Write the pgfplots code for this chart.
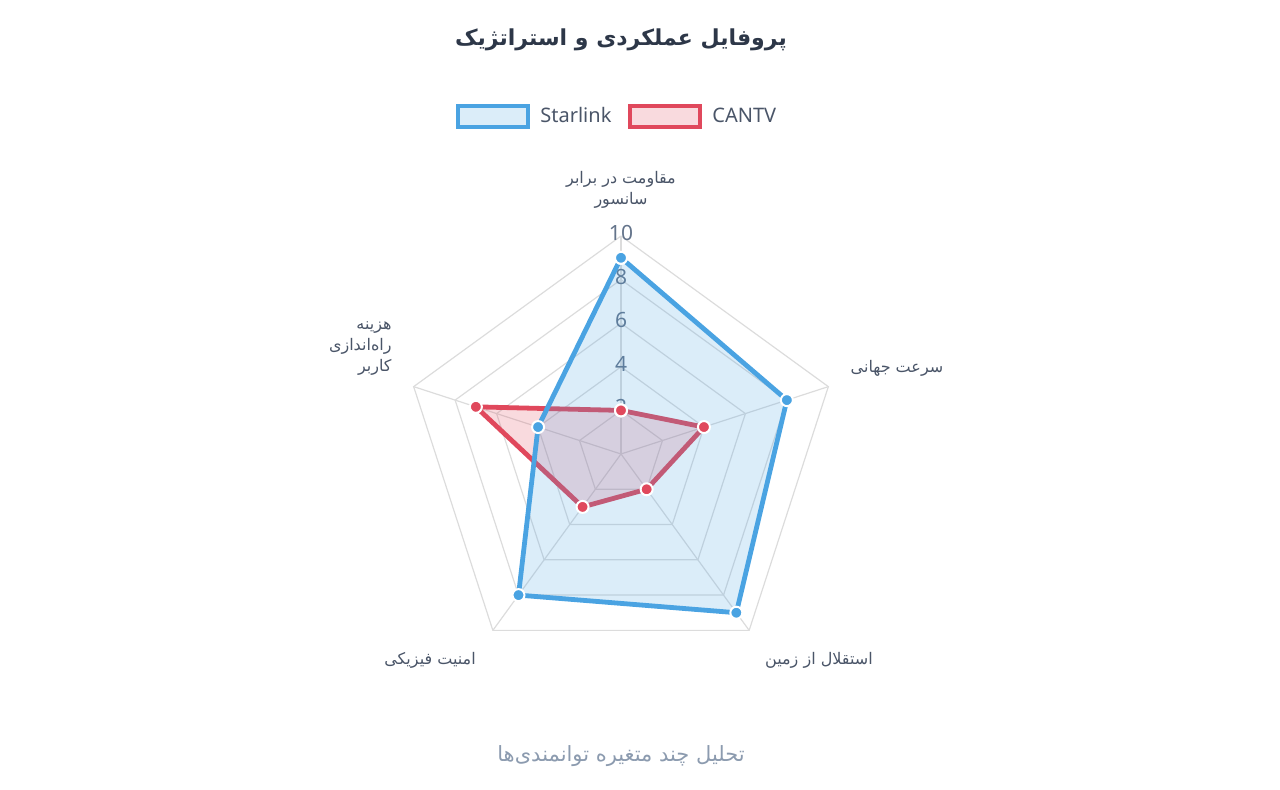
\documentclass[border=0pt]{standalone}
\usepackage{pgfplots}
\pgfplotsset{compat=1.18}
\usepgfplotslibrary{polar}
\usepackage{fontspec}
\setmainfont{Noto Sans}
\newfontfamily\fa[Script=Arabic]{DejaVu Sans}
\TeXXeTstate=1
\definecolor{sblue}{RGB}{74,163,226}
\definecolor{cred}{RGB}{224,72,92}
\definecolor{gridc}{RGB}{220,220,220}
\definecolor{tickc}{RGB}{100,116,139}
\definecolor{labc}{RGB}{74,85,104}
\definecolor{titc}{RGB}{45,55,72}
\definecolor{subc}{RGB}{140,155,175}
\pgfplotsset{pol/.style={data cs=polar}, gr/.style={pol, gridc, line width=0.6pt, no marks}}
\begin{document}
\begin{tikzpicture}
\begin{axis}[scale only axis, width=640pt, height=394.5pt,
  xmin=-28.486, xmax=30.229, ymin=-15.367, ymax=20.826,
  hide axis, clip=false]
\path (rel axis cs:0,0) rectangle (rel axis cs:1,1);
% grid pentagons
\addplot[gr] coordinates {(90,2) (18,2) (-54,2) (-126,2) (162,2) (90,2)};
\addplot[gr] coordinates {(90,4) (18,4) (-54,4) (-126,4) (162,4) (90,4)};
\addplot[gr] coordinates {(90,6) (18,6) (-54,6) (-126,6) (162,6) (90,6)};
\addplot[gr] coordinates {(90,8) (18,8) (-54,8) (-126,8) (162,8) (90,8)};
\addplot[gr] coordinates {(90,10) (18,10) (-54,10) (-126,10) (162,10) (90,10)};
% spokes
\addplot[gr] coordinates {(90,0) (90,10)};
\addplot[gr] coordinates {(18,0) (18,10)};
\addplot[gr] coordinates {(-54,0) (-54,10)};
\addplot[gr] coordinates {(-126,0) (-126,10)};
\addplot[gr] coordinates {(162,0) (162,10)};
% tick labels
\node[text=tickc, font=\fontsize{10.5}{12}\selectfont, inner sep=0pt] at (axis cs:0,2.14) {2};
\node[text=tickc, font=\fontsize{10.5}{12}\selectfont, inner sep=0pt] at (axis cs:0,4.14) {4};
\node[text=tickc, font=\fontsize{10.5}{12}\selectfont, inner sep=0pt] at (axis cs:0,6.14) {6};
\node[text=tickc, font=\fontsize{10.5}{12}\selectfont, inner sep=0pt] at (axis cs:0,8.14) {8};
\node[text=tickc, font=\fontsize{10.5}{12}\selectfont, inner sep=0pt] at (axis cs:0,10.14) {10};
% CANTV
\addplot[pol, cred, line width=2.4pt, fill=cred, fill opacity=0.2, draw opacity=1,
  mark=*, mark size=3pt, mark options={fill=cred, draw=white, line width=1pt, fill opacity=1}]
  coordinates {(90,2) (18,4) (-54,2) (-126,3) (162,7) (90,2)};
% Starlink
\addplot[pol, sblue, line width=2.4pt, fill=sblue, fill opacity=0.2, draw opacity=1,
  mark=*, mark size=3pt, mark options={fill=sblue, draw=white, line width=1pt, fill opacity=1}]
  coordinates {(90,9) (18,8) (-54,9) (-126,8) (162,4) (90,9)};
% title
\node[text=titc, font=\fa\bfseries\fontsize{11}{14}\selectfont] at (axis cs:0,18.99) {\beginR پروفایل عملکردی و استراتژیک\endR};
% legend
\draw[sblue, line width=2pt, fill=sblue!20] (axis cs:-7.477,15.963) rectangle (axis cs:-4.266,15.0);
\node[anchor=west, text=labc, font=\fontsize{10}{12}\selectfont, inner sep=0pt] at (axis cs:-3.716,15.55) {Starlink};
\draw[cred, line width=2pt, fill=cred!20] (axis cs:0.413,15.963) rectangle (axis cs:3.624,15.0);
\node[anchor=west, text=labc, font=\fontsize{10}{12}\selectfont, inner sep=0pt] at (axis cs:4.174,15.55) {CANTV};
% axis labels
\node[text=labc, font=\fa\fontsize{8}{10.5}\selectfont, align=center] at (axis cs:0,12.1) {\beginR مقاومت در برابر\endR\\\beginR سانسور\endR};
\node[text=labc, font=\fa\fontsize{8}{10.5}\selectfont] at (axis cs:12.66,3.94) {\beginR سرعت جهانی\endR};
\node[text=labc, font=\fa\fontsize{8}{10.5}\selectfont] at (axis cs:9.08,-9.45) {\beginR استقلال از زمین\endR};
\node[text=labc, font=\fa\fontsize{8}{10.5}\selectfont] at (axis cs:-8.76,-9.45) {\beginR امنیت فیزیکی\endR};
\node[text=labc, font=\fa\fontsize{8}{10.5}\selectfont, align=right, anchor=east] at (axis cs:-10.2,4.86) {\beginR هزینه\endR\\\beginR راه‌اندازی\endR\\\beginR کاربر\endR};
% subtitle
\node[text=subc, font=\fa\fontsize{10.5}{12}\selectfont] at (axis cs:0,-13.85) {\beginR تحلیل چند متغیره توانمندی‌ها\endR};
\end{axis}
\end{tikzpicture}
\end{document}
